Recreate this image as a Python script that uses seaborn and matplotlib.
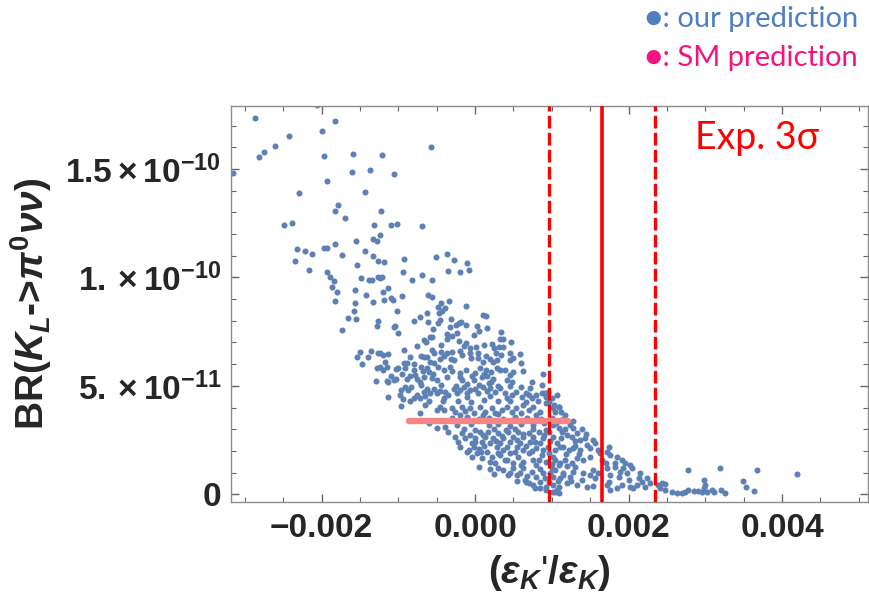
import matplotlib
matplotlib.use("Agg")
import matplotlib.pyplot as plt
import numpy as np
import seaborn as sns
from matplotlib.ticker import FixedLocator, MultipleLocator

# (eps'/eps) in units of 1e-3, BR(K_L -> pi0 nu nu) in units of 1e-11
points = [
    (-2.87, 17.35), (-2.06, 17.96), (-1.82, 17.2), (-1.99, 16.77), (-2.42, 16.53), (-2.61, 16.06),
    (-2.75, 15.78), (-2.81, 15.53), (-0.58, 16.03), (-1.97, 15.6), (-1.59, 15.69), (-1.21, 15.64),
    (-3.16, 14.8), (-1.6, 14.86), (-1.37, 14.95), (-1.05, 14.78), (-1.93, 14.43), (-1.44, 13.92),
    (-2.3, 13.87), (-1.78, 13.34), (-1.83, 13.04), (-1.23, 13.04), (-1.7, 12.72), (-2.49, 12.43),
    (-2.38, 12.52), (-1.32, 12.43), (-1.1, 12.43), (-1.02, 12.44), (-0.69, 12.37), (-1.24, 11.97),
    (-1.33, 11.78), (-1.28, 11.7), (-1.55, 11.7), (-1.83, 11.56), (-2.32, 11.33), (-2.21, 11.24),
    (-2.13, 11.1), (-1.97, 11.35), (-1.93, 11.35), (-1.43, 11.23), (-1.74, 11.03), (-1.33, 10.98),
    (-0.36, 11.08), (-0.51, 10.94), (-0.27, 10.8), (-0.92, 10.87), (-2.34, 10.77), (-1.27, 10.75),
    (-1.19, 10.69), (-0.1, 10.66), (-1.54, 10.58), (-2.16, 10.32), (-1.93, 10.27), (-0.94, 10.26),
    (-0.35, 10.29), (-0.19, 10.26), (-0.08, 10.36), (-0.69, 10.11), (-1.89, 10.03), (-1.84, 9.84),
    (-1.48, 9.95), (-1.38, 9.86), (-1.34, 9.89), (-1.26, 10.04), (-1.24, 9.97), (-1.21, 10.01),
    (-0.82, 9.9), (-0.56, 9.9), (-1.86, 9.57), (-1.56, 9.43), (-1.13, 9.49), (-1.8, 9.32),
    (-1.2, 9.32), (-1.42, 9.2), (-0.95, 9.12), (-0.61, 9.18), (-0.56, 9.09), (-1.1, 9.03),
    (-1.07, 8.98), (-1.19, 8.98), (-1.83, 8.89), (-1.56, 8.81), (-1.33, 8.87), (-0.45, 8.84),
    (-0.34, 8.89), (-0.48, 8.63), (-0.39, 8.61), (-0.12, 8.66), (-0.43, 8.47), (-0.47, 8.37),
    (-1.58, 8.46), (-1.02, 8.46), (-0.63, 8.35), (0.1, 8.27),
    (-1.66, 8.15), (-1.55, 8.09), (-1.74, 7.57), (-1.28, 7.77), (-1.26, 8.0), (-1.5, 6.55),
    (-1.54, 6.32), (-1.47, 6.01), (-1.4, 6.35), (-1.35, 6.63), (-1.29, 5.23),
    (-1.04, 7.77), (-1.06, 7.71), (-1.01, 7.43), (-0.79, 8.01), (-0.72, 8.17), (-0.61, 7.94),
    (-0.48, 7.92), (-0.46, 8.04), (-0.31, 8.1), (-0.32, 7.73), (-0.25, 7.81), (-0.21, 7.92),
    (-0.18, 7.95), (-0.23, 7.46), (-0.12, 7.81), (0.02, 7.77), (0.14, 8.2), (0.16, 7.66),
    (-0.01, 7.35), (-0.37, 7.4), (-0.56, 7.24), (-0.59, 7.23), (-0.66, 7.12), (-0.64, 7.04),
    (-0.36, 7.17), (-0.21, 7.09), (-0.12, 6.97), (0.34, 7.5), (0.32, 7.17), (0.36, 7.15),
    (0.47, 7.04), (0.22, 6.94), (0.01, 6.77), (-0.06, 6.74), (0.25, 6.74), (0.31, 6.81),
    (0.37, 6.81), (-0.93, 6.66), (-0.56, 6.66), (-0.54, 6.51), (-0.44, 6.58), (-0.37, 6.51),
    (-0.3, 6.58), (-0.2, 6.63), (-0.17, 6.43), (-0.07, 6.51), (0.04, 6.51), (0.14, 6.38),
    (0.27, 6.51), (0.34, 6.43), (0.45, 6.53), (0.58, 6.47), (-1.24, 6.51), (-1.2, 6.43),
    (-1.13, 6.46), (-0.7, 6.38), (-0.67, 6.35), (-0.63, 6.35), (-0.46, 6.23), (-0.59, 6.12),
    (-0.54, 6.05), (-0.31, 6.23), (-0.28, 6.2), (0.04, 6.28), (0.24, 6.12), (0.28, 6.2),
    (0.46, 6.2), (-0.93, 6.05), (-0.89, 6.07), (-1.17, 6.12), (-1.15, 5.89), (-1.2, 5.74),
    (-1.24, 5.89), (-1.03, 5.77), (-1.0, 5.81), (-0.91, 5.84), (-0.8, 5.74), (-0.78, 5.5),
    (-0.7, 5.89), (-0.68, 5.7), (-0.62, 5.81), (-0.6, 5.66), (-0.48, 5.89), (-0.41, 5.74),
    (-0.33, 5.89), (-0.3, 5.7), (-0.12, 5.74), (0.0, 5.58), (0.07, 5.81), (0.14, 5.74),
    (0.21, 5.66), (0.28, 5.81), (0.32, 5.74), (0.39, 5.74), (0.5, 5.66), (0.63, 5.69),
    (-1.09, 5.46), (-1.03, 5.31), (-1.14, 5.2), (-0.89, 5.31), (-0.85, 5.46), (-0.75, 5.31),
    (-0.72, 5.2), (-0.66, 5.43), (-0.56, 5.35), (-0.5, 5.27), (-0.37, 5.43), (-0.2, 5.43),
    (-0.17, 5.27), (-0.04, 5.46), (-0.01, 5.27), (0.09, 5.43), (0.15, 5.46), (0.24, 5.31),
    (0.21, 5.2), (0.41, 5.27), (0.48, 5.2), (0.74, 5.2), (0.89, 5.55),
    (-0.96, 4.81), (-0.91, 4.94), (-0.87, 4.81), (-0.83, 4.94), (-1.13, 4.5), (-0.98, 4.58),
    (-0.94, 4.4), (-0.8, 4.43), (-0.76, 4.58), (-0.72, 4.43), (-0.67, 4.73), (-0.63, 4.85),
    (-0.59, 4.69), (-0.54, 4.85), (-0.5, 4.66), (-0.46, 4.78), (-0.39, 4.73), (-0.35, 4.58),
    (-0.28, 4.85), (-0.24, 4.66), (-0.2, 4.81), (-0.15, 4.94), (-0.11, 4.66), (-0.07, 4.81),
    (0.0, 4.85), (0.04, 4.66), (0.11, 4.97), (0.15, 4.78), (0.2, 4.89), (0.26, 4.73),
    (0.33, 4.89), (0.39, 4.66), (0.48, 4.58), (0.54, 4.73), (0.61, 4.5), (0.67, 4.66),
    (0.74, 4.43), (0.8, 4.58), (0.87, 4.69), (0.93, 4.48), (1.0, 4.43), (1.07, 4.58),
    (-0.96, 4.07), (-0.72, 3.74), (-0.46, 4.04), (-0.41, 3.89), (-0.3, 3.97), (-0.26, 3.81),
    (-0.17, 4.04), (-0.13, 3.86), (-0.07, 3.97), (-0.02, 3.77), (0.07, 4.01), (0.13, 3.81),
    (0.22, 3.97), (0.26, 3.74), (0.35, 3.89), (0.41, 4.04), (0.48, 3.81), (0.54, 3.97),
    (0.63, 4.12), (0.7, 3.89), (0.76, 4.04), (0.85, 3.81), (0.93, 4.2), (1.02, 3.97),
    (1.09, 4.04), (-0.5, 3.05), (-0.39, 3.12), (-0.24, 3.2),
    (-0.35, 2.89), (-0.26, 2.66), (-0.22, 2.43), (-0.17, 2.81), (-0.13, 2.58), (-0.07, 2.74),
    (-0.04, 2.35), (0.0, 2.58), (0.07, 2.89), (0.09, 2.43), (0.13, 2.66), (0.17, 2.89),
    (0.2, 2.35), (0.24, 2.58), (0.3, 2.81), (0.33, 2.35), (0.37, 2.58), (0.43, 2.89),
    (0.46, 2.43), (0.5, 2.66), (0.56, 2.89), (0.59, 2.35), (0.63, 2.66), (0.7, 2.81),
    (0.72, 2.43), (0.76, 2.66), (0.83, 2.89), (0.85, 2.35), (0.89, 2.58), (0.96, 2.89),
    (1.02, 2.66), (1.07, 2.35),
    (-0.11, 1.97), (-0.04, 1.74), (0.02, 1.89), (0.09, 1.66), (0.15, 1.97), (0.22, 1.74),
    (0.26, 1.43), (0.33, 1.81), (0.39, 1.58), (0.46, 1.89), (0.5, 1.43), (0.56, 1.74),
    (0.63, 1.5), (0.7, 1.89), (0.76, 1.58), (0.8, 1.35), (0.87, 1.81), (0.93, 1.5),
    (1.02, 1.74), (1.09, 1.35),
    (0.37, 1.12), (0.43, 0.89), (0.5, 1.2), (0.59, 0.97), (0.65, 0.66), (0.7, 0.51),
    (0.74, 1.04), (0.8, 0.81), (0.85, 0.58), (0.91, 0.74), (0.98, 0.97), (1.02, 0.43),
    (1.07, 0.2), (0.93, 0.35), (0.67, 0.58), (0.76, 0.43), (0.85, 0.28), (0.93, 0.2),
    (1.02, 0.12), (1.09, 0.05),
    (0.87, 5.04), (0.9, 4.66), (1.03, 4.12), (1.1, 4.01), (1.04, 3.81), (1.17, 3.66),
    (1.27, 3.4), (1.24, 3.2), (1.28, 3.05), (1.4, 3.0), (1.02, 3.2), (1.09, 3.05),
    (1.13, 2.89), (1.2, 2.74), (1.26, 2.66), (1.33, 2.81), (1.37, 2.51), (1.43, 2.58),
    (1.54, 2.51), (1.56, 2.35), (1.46, 2.28), (1.5, 2.12), (1.37, 2.04), (1.28, 2.12),
    (1.22, 2.04), (1.11, 2.2), (1.04, 2.04), (1.72, 1.97), (1.76, 1.81), (1.74, 2.2),
    (1.63, 1.89), (1.5, 1.74), (1.41, 1.58), (1.33, 1.66), (1.26, 1.43), (1.17, 1.58),
    (1.11, 1.43), (1.04, 1.58), (1.85, 1.74), (1.91, 1.58), (1.96, 1.43), (2.02, 1.35),
    (2.04, 1.2), (1.82, 1.43), (1.83, 1.27), (1.7, 1.43), (1.72, 1.2), (1.89, 1.04),
    (1.87, 0.81), (1.76, 0.89), (1.74, 0.58), (1.54, 1.12), (1.5, 0.89), (1.56, 0.74),
    (1.41, 0.97), (1.39, 0.66), (1.28, 1.04), (1.24, 0.81), (1.15, 0.97), (1.11, 0.74),
    (1.04, 1.12), (1.02, 0.81), (1.2, 0.51), (1.33, 0.43), (1.46, 0.35), (1.54, 0.38),
    (1.09, 0.35), (1.04, 0.12), (1.72, 0.43), (1.76, 0.2), (1.93, 1.2), (1.98, 0.97),
    (2.0, 0.66), (2.02, 0.35), (2.06, 0.28), (2.15, 0.97), (2.13, 0.74), (2.17, 0.58),
    (2.11, 0.43), (2.22, 0.35), (2.24, 0.74), (2.28, 0.51), (1.85, 0.28), (1.91, 0.43),
    (2.43, 0.51), (2.48, 0.48), (2.41, 0.28), (2.48, 0.2), (2.39, 0.43), (2.56, 0.12),
    (2.63, 0.05), (2.7, 0.05), (2.74, 0.12), (2.78, 0.2), (2.78, 1.12), (2.85, 0.17),
    (2.91, 0.17), (2.98, 0.66), (3.0, 0.43), (2.98, 0.28), (2.96, 0.12), (3.02, 0.12),
    (3.09, 0.2), (3.11, 0.12), (3.19, 1.2),
    (3.68, 1.11), (4.19, 0.92), (3.49, 0.61), (3.53, 0.32), (3.63, 0.17), (3.2, 0.2), (3.26, 0.05),
    (-1.15, 5.23), (-1.06, 5.27), (-1.28, 5.81), (-1.26, 6.51),
    (-0.85, 4.3), (-0.6, 4.28), (-0.42, 4.32), (-0.22, 4.3), (-0.05, 4.27), (0.12, 4.33),
    (0.3, 4.29), (0.45, 4.31), (0.66, 4.26), (0.82, 4.3), (0.97, 4.24),
    (-0.3, 3.5), (-0.1, 3.55), (0.05, 3.48), (0.18, 3.52), (0.36, 3.47), (0.52, 3.55),
    (0.68, 3.5), (0.86, 3.46), (1.0, 3.52), (1.15, 3.45),
    (-0.6, 3.27), (-0.05, 3.22), (0.3, 3.26), (0.6, 3.24), (0.9, 3.27),
    (-0.15, 3.0), (0.0, 2.98), (0.25, 3.03), (0.4, 2.97), (0.52, 3.02), (0.76, 3.0),
    (0.92, 2.97), (1.17, 3.02),
    (-0.2, 2.2), (-0.02, 2.18), (0.12, 2.22), (0.28, 2.16), (0.42, 2.2), (0.55, 2.17),
    (0.66, 2.22), (0.8, 2.15), (0.95, 2.2), (1.15, 2.18), (1.3, 2.24),
    (-0.08, 2.05), (0.05, 2.08), (0.36, 2.04), (0.62, 2.06), (0.88, 2.03),
    (0.05, 1.25), (0.2, 1.18), (0.3, 1.22), (0.62, 1.2), (0.85, 1.16), (1.0, 1.22), (1.3, 1.25),
    (0.25, 0.92), (0.55, 0.88), (1.15, 0.9),
    (-0.45, 5.02), (-0.25, 4.98), (0.05, 5.05), (0.3, 5.0), (0.6, 4.97),
    (-0.8, 6.0), (0.1, 6.1), (0.6, 6.05),
    (0.18, 3.2), (0.45, 3.15), (0.75, 3.18), (1.05, 3.3),
    (0.1, 2.75), (0.35, 2.7), (0.62, 2.78), (0.9, 2.72), (1.12, 2.62),
    (0.0, 2.4), (0.27, 2.45), (0.55, 2.5), (0.78, 2.4), (0.98, 2.45),
    (0.08, 1.95), (0.3, 1.9), (0.52, 1.95), (0.74, 2.0), (0.97, 1.9), (1.18, 1.85),
    (0.2, 1.5), (0.42, 1.6), (0.6, 1.35), (0.83, 1.6), (1.0, 1.42), (1.2, 1.3),
    (0.46, 1.0), (0.68, 0.85), (0.88, 1.0), (1.08, 0.62), (0.78, 0.3), (0.97, 0.55),
    (-0.65, 4.55), (-0.4, 4.45), (-0.1, 4.5), (0.2, 4.55), (0.42, 4.45), (0.7, 4.6), (0.95, 4.7),
    (-0.7, 5.05), (-0.1, 5.1), (0.18, 5.15), (0.45, 5.0), (0.72, 4.9),
    (-0.95, 5.55), (-0.55, 5.55), (-0.2, 5.6), (0.12, 5.55), (0.45, 5.5),
    (-0.85, 6.35), (-0.4, 6.4), (-0.05, 6.3), (0.2, 6.25), (0.5, 6.3),
    (-0.75, 6.85), (-0.45, 6.9), (-0.15, 6.85), (0.12, 6.9),
    (-0.3, 7.3), (0.05, 7.55), (-0.55, 7.6),
    (-0.65, 4.1), (-0.5, 3.9), (-0.2, 3.65), (0.1, 3.65), (0.3, 3.7), (0.6, 3.75), (0.8, 3.65),
    (1.12, 3.8), (0.55, 0.6), (1.25, 0.6), (1.6, 1.0), (1.65, 1.6), (1.35, 1.85), (1.6, 2.05),
    (1.45, 2.8), (1.3, 2.45),
]
eps_ratio = np.array([p[0] for p in points]) * 1e-3
br_klpinn = np.array([p[1] for p in points]) * 1e-11

# SM prediction band and experimental eps'/eps (3 sigma)
sm_eps_range = [-0.86e-3, 1.21e-3]
sm_br = [3.4e-11, 3.4e-11]
exp_central = 1.66e-3
exp_3sigma = [0.97e-3, 2.35e-3]

x_ticks = [-0.002, 0.0, 0.002, 0.004]
x_ticklabels = ["\u22120.002", "0.000", "0.002", "0.004"]
y_ticks = [0.0, 5e-11, 1e-10, 1.5e-10]
y_ticklabels = ["$0$", r"$5.\times10^{-11}$", r"$1.\times10^{-10}$", r"$1.5\times10^{-10}$"]

sns.set_style("ticks")
plt.rcParams["font.family"] = ["Liberation Sans", "DejaVu Sans"]
plt.rcParams["mathtext.fontset"] = "custom"
plt.rcParams["mathtext.rm"] = "Liberation Sans:bold"
plt.rcParams["mathtext.bf"] = "Liberation Sans:bold"
plt.rcParams["mathtext.it"] = "Liberation Sans:italic:bold"
plt.rcParams["mathtext.fallback"] = "stixsans"

fig = plt.figure(figsize=(8.7, 6.0), dpi=100)
ax = fig.add_axes([0.2655, 0.1638, 0.7322, 0.6595])

sns.scatterplot(x=eps_ratio, y=br_klpinn, ax=ax, color="#5e81b5", s=19,
                linewidth=0, zorder=2)

ax.plot(sm_eps_range, sm_br, color="#f58686", lw=4.6, solid_capstyle="round", zorder=3)
ax.axvline(exp_central, color="#ff0000", lw=2.6, zorder=4)
for xv in exp_3sigma:
    ax.axvline(xv, color="#ff0000", lw=2.4, linestyle=(0, (3.8, 1.3)), zorder=4)

ax.set_xlim(-0.00318, 0.00512)
ax.set_ylim(-0.34e-11, 1.79e-10)

ax.xaxis.set_major_locator(FixedLocator(x_ticks))
ax.set_xticklabels(x_ticklabels, fontsize=24, fontweight="bold")
ax.xaxis.set_minor_locator(MultipleLocator(0.0005))
ax.yaxis.set_major_locator(FixedLocator(y_ticks))
ax.set_yticklabels(y_ticklabels, fontsize=24)
ax.yaxis.set_minor_locator(MultipleLocator(1e-11))

for spine in ax.spines.values():
    spine.set_color("#8c8c8c")
    spine.set_linewidth(1.0)
ax.tick_params(which="both", direction="in", top=True, right=True, color="#666666")
ax.tick_params(which="major", length=6, width=1.0)
ax.tick_params(which="minor", length=3.5, width=0.8)
ax.tick_params(axis="x", which="major", pad=8)
ax.tick_params(axis="y", which="major", pad=7)

ax.set_xlabel(r"$(\epsilon_K$'$/\epsilon_K)$", fontsize=28)
ax.xaxis.set_label_coords(0.5, -0.13)
ax.set_ylabel(r"BR($K_L$->$\pi^0\nu\nu$)", fontsize=28, fontweight="bold")
ax.yaxis.set_label_coords(-0.278, 0.5)

ax.text(0.826, 0.919, "Exp. 3\u03c3", transform=ax.transAxes, color="#ff0000",
        fontsize=27, family=["Lato", "DejaVu Sans"], ha="center", va="center")

fig.text(0.986, 0.968, "\u25cf: our prediction", color="#4f7fc0", fontsize=21,
         family=["Lato", "DejaVu Sans"], ha="right", va="center")
fig.text(0.986, 0.903, "\u25cf: SM prediction", color="#f5147e", fontsize=21,
         family=["Lato", "DejaVu Sans"], ha="right", va="center")

fig.savefig("out.png", dpi=100)
